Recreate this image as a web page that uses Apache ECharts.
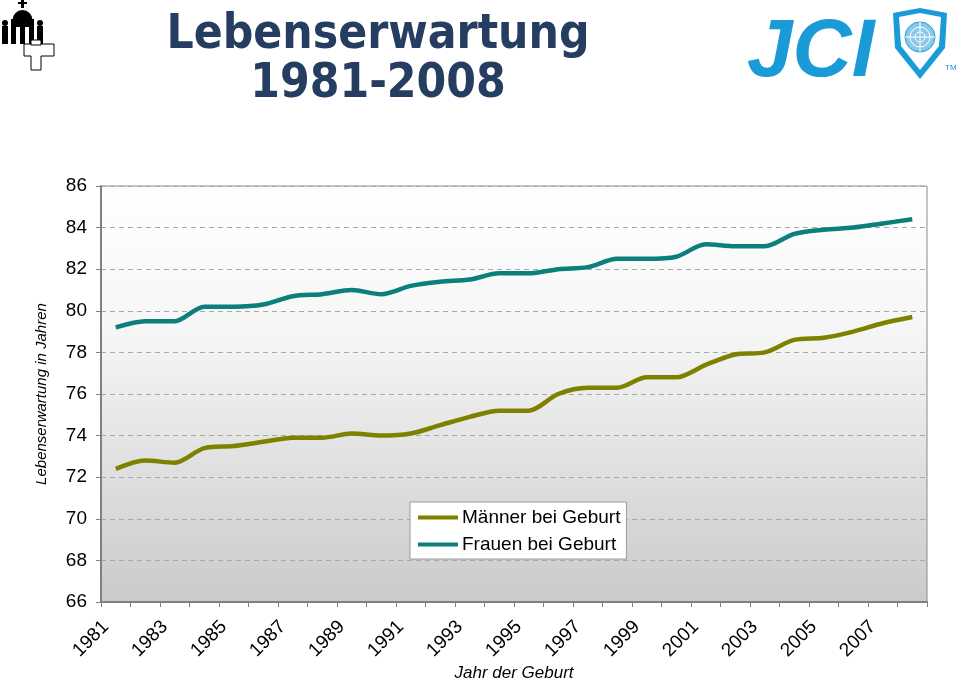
<!DOCTYPE html>
<html>
<head>
<meta charset="utf-8">
<script src="https://cdn.jsdelivr.net/npm/echarts@6/dist/echarts.min.js"></script>
<style>html,body{margin:0;padding:0;background:#fff}#c{width:960px;height:680px}</style>
</head>
<body>
<div id="c"></div>
<script>
const years = ['1981','1982','1983','1984','1985','1986','1987','1988','1989','1990','1991','1992','1993','1994','1995','1996','1997','1998','1999','2000','2001','2002','2003','2004','2005','2006','2007','2008'];
const maenner = [72.4, 72.8, 72.7, 73.4, 73.5, 73.7, 73.9, 73.9, 74.1, 74.0, 74.1, 74.5, 74.9, 75.2, 75.2, 76.0, 76.3, 76.3, 76.8, 76.8, 77.4, 77.9, 78.0, 78.6, 78.7, 79.0, 79.4, 79.7];
const frauen = [79.2, 79.5, 79.5, 80.2, 80.2, 80.3, 80.7, 80.8, 81.0, 80.8, 81.2, 81.4, 81.5, 81.8, 81.8, 82.0, 82.1, 82.5, 82.5, 82.6, 83.2, 83.1, 83.1, 83.7, 83.9, 84.0, 84.2, 84.4];
const seriesNames = ['Männer bei Geburt', 'Frauen bei Geburt'];
const xAxisTitle = 'Jahr der Geburt';

const chart = echarts.init(document.getElementById('c'), null, {renderer: 'canvas'});
const F = "'Liberation Sans', Arial, sans-serif";
const blue = '#1a9ad7';
chart.setOption({
  animation: false,
  backgroundColor: '#ffffff',
  title: {
    text: 'Lebenserwartung\n1981-2008',
    left: 373, top: 6, textAlign: 'center',
    textStyle: {fontFamily: "'DejaVu Sans Condensed','DejaVu Sans',sans-serif", fontWeight: 'bold', fontSize: 47.5, lineHeight: 49, color: '#243d60'}
  },
  grid: {
    left: 101, right: 33, top: 186, bottom: 78, show: true, containLabel: false, outerBoundsMode: 'none',
    backgroundColor: new echarts.graphic.LinearGradient(0, 0, 0, 1, [
      {offset: 0, color: '#ffffff'}, {offset: 0.35, color: '#f6f6f6'}, {offset: 1, color: '#cacaca'}
    ]),
    borderColor: '#8a8a8a', borderWidth: 1
  },
  legend: {
    data: seriesNames, orient: 'vertical', left: 410, top: 502,
    backgroundColor: '#ffffff', borderColor: '#9a9a9a', borderWidth: 1,
    padding: [6, 6, 5, 8], itemGap: 8, itemWidth: 40, itemHeight: 4, icon: 'rect',
    textStyle: {fontFamily: F, fontSize: 19, color: '#000', padding: [0, 0, 0, -1]}
  },
  xAxis: {
    type: 'category', data: years, boundaryGap: true,
    axisLine: {lineStyle: {color: '#808080', width: 2}},
    axisTick: {show: true, interval: 0, length: 5, lineStyle: {color: '#808080'}},
    axisLabel: {interval: 1, rotate: 45, margin: 12, padding: [0, 14, 0, 0], fontFamily: F, fontSize: 19, color: '#000'},
    splitLine: {show: false}
  },
  yAxis: {
    type: 'value', min: 66, max: 86, interval: 2,
    name: 'Lebenserwartung in Jahren', nameLocation: 'middle', nameGap: 52, nameRotate: 90,
    nameTextStyle: {fontFamily: F, fontSize: 15, fontStyle: 'italic', color: '#000'},
    axisLine: {show: true, lineStyle: {color: '#808080', width: 2}},
    axisTick: {show: true, length: 5, lineStyle: {color: '#808080'}},
    axisLabel: {margin: 14, fontFamily: F, fontSize: 19, color: '#000'},
    splitLine: {show: true, lineStyle: {color: '#a8a8a8', type: [5, 4], width: 1}}
  },
  series: [
    {name: seriesNames[0], type: 'line', data: maenner, smooth: 0.3, symbol: 'none',
     lineStyle: {color: '#808000', width: 4.5}, itemStyle: {color: '#808000'}},
    {name: seriesNames[1], type: 'line', data: frauen, smooth: 0.3, symbol: 'none',
     lineStyle: {color: '#0a7f7c', width: 4.5}, itemStyle: {color: '#0a7f7c'}}
  ],
  graphic: [
    // x axis title
    {type: 'text', x: 514, y: 673, style: {text: xAxisTitle, font: 'italic 17px ' + F, fill: '#000', textAlign: 'center', textVerticalAlign: 'middle'}},
    // left logo (church + cross)
    {type: 'rect', shape: {x: 21, y: 0, width: 3, height: 8}, style: {fill: '#000'}},
    {type: 'rect', shape: {x: 18, y: 2, width: 9, height: 2}, style: {fill: '#000'}},
    {type: 'sector', shape: {cx: 22.5, cy: 20, r0: 0, r: 10, startAngle: Math.PI, endAngle: 2 * Math.PI}, style: {fill: '#000'}},
    {type: 'rect', shape: {x: 11, y: 19, width: 23, height: 25}, style: {fill: '#000'}},
    {type: 'rect', shape: {x: 16, y: 27, width: 4, height: 17}, style: {fill: '#fff'}},
    {type: 'rect', shape: {x: 25, y: 27, width: 4, height: 17}, style: {fill: '#fff'}},
    {type: 'rect', shape: {x: 2, y: 26, width: 6, height: 18}, style: {fill: '#000'}},
    {type: 'rect', shape: {x: 37, y: 26, width: 6, height: 18}, style: {fill: '#000'}},
    {type: 'circle', shape: {cx: 5, cy: 23, r: 3}, style: {fill: '#000'}},
    {type: 'circle', shape: {cx: 40, cy: 23, r: 3}, style: {fill: '#000'}},
    {type: 'polygon', shape: {points: [[31,44],[41,44],[41,36],[41,44],[54,44],[54,56],[41,56],[41,70],[31,70],[31,56],[24,56],[24,44]]},
     style: {fill: '#fff', stroke: '#000', lineWidth: 1}},
    {type: 'rect', shape: {x: 31, y: 40, width: 10, height: 5}, style: {fill: '#fff', stroke: '#000', lineWidth: 1}},
    // JCI logo
    {type: 'text', x: 747, y: 12, style: {text: 'JCI', font: 'italic 900 82px ' + F, fill: blue}},
    {type: 'polygon', shape: {points: [[893,13],[920,8],[947,13],[945,48],[920,79],[895,48]]}, style: {fill: blue}},
    {type: 'polygon', shape: {points: [[899,17],[920,13],[941,17],[939,46],[920,70],[901,46]]}, style: {fill: '#ffffff'}},
    {type: 'circle', shape: {cx: 920, cy: 37, r: 15}, style: {fill: '#8cc8ea', stroke: blue, lineWidth: 1}},
    {type: 'circle', shape: {cx: 920, cy: 37, r: 10}, style: {fill: 'none', stroke: '#ffffff', lineWidth: 1}},
    {type: 'circle', shape: {cx: 920, cy: 37, r: 5}, style: {fill: 'none', stroke: '#ffffff', lineWidth: 1}},
    {type: 'line', shape: {x1: 905, y1: 37, x2: 935, y2: 37}, style: {stroke: '#ffffff', lineWidth: 1}},
    {type: 'line', shape: {x1: 920, y1: 22, x2: 920, y2: 52}, style: {stroke: '#ffffff', lineWidth: 1}},
    {type: 'text', x: 945, y: 64, style: {text: 'TM', font: '8px ' + F, fill: blue}}
  ]
});
</script>
</body>
</html>
